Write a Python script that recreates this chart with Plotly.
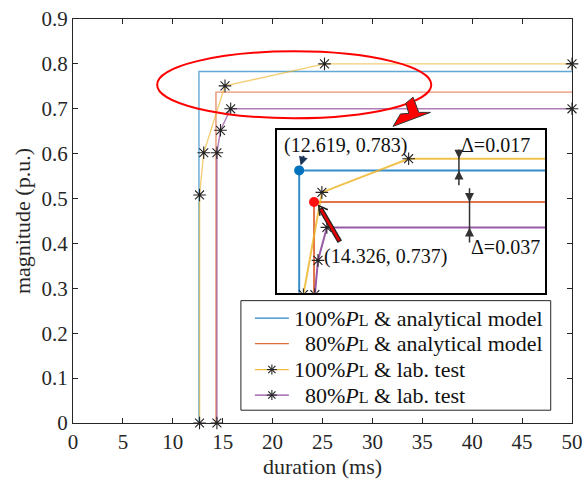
import plotly.graph_objects as go

# ---------------- data ----------------
x_a100 = [12.619, 12.619, 50]
y_a100 = [0, 0.783, 0.783]
x_a80 = [14.326, 14.326, 50]
y_a80 = [0, 0.737, 0.737]
x_t100 = [12.68, 12.68, 13.1, 15.23, 25.2, 50]
y_t100 = [0, 0.508, 0.602, 0.751, 0.80, 0.80]
x_t80 = [14.42, 14.42, 14.78, 15.8, 50]
y_t80 = [0, 0.602, 0.652, 0.70, 0.70]
key_pts_x = [12.619, 14.326]
key_pts_y = [0.783, 0.737]
x_ticks = [0, 5, 10, 15, 20, 25, 30, 35, 40, 45, 50]
y_ticks = [0, 0.1, 0.2, 0.3, 0.4, 0.5, 0.6, 0.7, 0.8, 0.9]

FONT = "Times New Roman, Liberation Serif, Tinos, serif"
BLUE, ORANGE, YELLOW, PURPLE = (0, 114, 189), (217, 83, 25), (237, 177, 32), (126, 47, 142)
def rgba(c, a):
    return f"rgba({c[0]},{c[1]},{c[2]},{a})"

PL = "<i>P</i><span style='font-size:16px'>L</span>"
names = [f"100%{PL} &amp; analytical model",
         f"80%{PL} &amp; analytical model",
         f"100%{PL} &amp; lab. test",
         f"80%{PL} &amp; lab. test"]

fig = go.Figure()
series = [(x_a100, y_a100, BLUE, False), (x_a80, y_a80, ORANGE, False),
          (x_t100, y_t100, YELLOW, True), (x_t80, y_t80, PURPLE, True)]
star = dict(symbol="asterisk-open", size=10.5, color="#222", line=dict(color="#222", width=1.1))
for (xs, ys, c, mk), nm in zip(series, names):
    fig.add_trace(go.Scatter(x=xs, y=ys, name=nm, mode="lines+markers" if mk else "lines",
                             line=dict(color=rgba(c, 0.62), width=1.4), showlegend=False,
                             marker=star if mk else None, cliponaxis=False,
                             xaxis="x", yaxis="y"))
# inset
for (xs, ys, c, mk) in series:
    fig.add_trace(go.Scatter(x=xs, y=ys, showlegend=False, mode="lines+markers" if mk else "lines",
                             line=dict(color=rgba(c, 0.8), width=2),
                             marker=star if mk else None, xaxis="x2", yaxis="y2"))
fig.add_trace(go.Scatter(x=key_pts_x, y=key_pts_y, mode="markers", showlegend=False,
                         marker=dict(size=10, color=["#0072BD", "#FF1010"]),
                         xaxis="x2", yaxis="y2"))

# geometry (pixels) of main plot area
L, R, T, B = 73, 572.3, 19, 423.5
W, H = R - L, B - T
def px(x):
    return (x - L) / W
def py(y):
    return (B - y) / H

ax_common = dict(showline=True, linecolor="#262626", linewidth=1, mirror="ticks",
                 ticks="inside", ticklen=5, tickcolor="#262626", showgrid=False,
                 zeroline=False, automargin=False,
                 tickfont=dict(family=FONT, size=21, color="#262626"))
fig.update_layout(
    width=585, height=481, margin=dict(l=L, r=585 - R, t=T, b=481 - B, autoexpand=False),
    paper_bgcolor="white", plot_bgcolor="white",
    font=dict(family=FONT, color="#262626"),
    xaxis=dict(range=[0, 50], tickvals=x_ticks, domain=[0, 1],
               title=dict(text="duration (ms)", font=dict(family=FONT, size=22), standoff=3), **ax_common),
    yaxis=dict(range=[0, 0.9], tickvals=y_ticks, domain=[0, 1],
               title=dict(text="magnitude (p.u.)", font=dict(family=FONT, size=22), standoff=4), **ax_common),
    xaxis2=dict(domain=[px(276.7), px(545.5)], range=[10.02, 40.9], anchor="y2",
                showticklabels=False, ticks="", showgrid=False, zeroline=False,
                showline=True, mirror=True, linecolor="black", linewidth=2),
    yaxis2=dict(domain=[py(293), py(130)], range=[0.605, 0.842], anchor="x2",
                showticklabels=False, ticks="", showgrid=False, zeroline=False,
                showline=True, mirror=True, linecolor="black", linewidth=2),
    showlegend=False,
)

def pline(x0, y0, x1, y1, color, width):
    fig.add_shape(type="line", xref="paper", yref="paper", x0=px(x0), y0=py(y0),
                  x1=px(x1), y1=py(y1), line=dict(color=color, width=width))

# red ellipse
fig.add_shape(type="circle", xref="x", yref="y", x0=8.43, x1=35.9, y0=0.679, y1=0.828,
              line=dict(color="#FF0000", width=2))
# big red block arrow
poly = [(406, 103.3), (413.3, 97.3), (419, 112.5), (430.7, 112.5), (393.3, 126.5),
        (400.7, 114), (409, 113.5)]
path = "M " + " L ".join(f"{px(a):.5f},{py(b):.5f}" for a, b in poly) + " Z"
fig.add_shape(type="path", xref="paper", yref="paper", path=path,
              fillcolor="#FF0000", line=dict(color="#333", width=1))

# red pointer in inset: outlined shaft + open head
tail, tip = (340, 242), (319, 206)
pline(tail[0], tail[1], tip[0] + 1.5, tip[1] + 2.5, "#222", 5)
pline(tail[0] - 0.6, tail[1] - 1, tip[0] + 2, tip[1] + 3.5, "#E00000", 2.6)
head = [(tip[0] + 9, tip[1] + 4), tip, (tip[0] + 1, tip[1] + 10)]
hpath = "M " + " L ".join(f"{px(a):.5f},{py(b):.5f}" for a, b in head)
fig.add_shape(type="path", xref="paper", yref="paper", path=hpath,
              line=dict(color="#222", width=1.6))

# delta bracket shafts
for xa, y_top, y_bot in [(30.98, 0.8135, 0.7615), (32.2, 0.757, 0.678)]:
    fig.add_shape(type="line", xref="x2", yref="y2", x0=xa, x1=xa, y0=y_bot, y1=y_top,
                  line=dict(color="#333", width=1.5))

# ---- legend (drawn) ----
lg_left, lg_top, lg_right, lg_bot = 241, 301, 551, 410.7
fig.add_shape(type="rect", xref="paper", yref="paper", x0=px(lg_left), x1=px(lg_right),
              y0=py(lg_bot), y1=py(lg_top), line=dict(color="#262626", width=1),
              fillcolor="white")
rows = [318.5, 344, 370, 395.5]
text_x = [292, 303.5, 292, 303.5]
ann = []
for (xs, ys, c, mk), nm, ry, tx in zip(series, names, rows, text_x):
    pline(255, ry, 289, ry, rgba(c, 0.85), 1.3)
    if mk:
        cx = 272
        for dx, dy in [(5, 0), (0, 5), (3.6, 3.6), (3.6, -3.6)]:
            pline(cx - dx, ry - dy, cx + dx, ry + dy, "#222", 1.1)
    ann.append(dict(x=px(tx), y=py(ry), xref="paper", yref="paper", text=nm,
                    xanchor="left", yanchor="middle", showarrow=False,
                    font=dict(family=FONT, size=22, color="#111")))

tf = dict(family=FONT, size=20, color="#111")
ann.append(dict(x=17.96, y=0.8194, xref="x2", yref="y2", text="(12.619, 0.783)",
                showarrow=False, font=tf))
ann.append(dict(x=35.2, y=0.8194, xref="x2", yref="y2", text="Δ=0.017",
                showarrow=False, font=tf))
ann.append(dict(x=36.3, y=0.6709, xref="x2", yref="y2", text="Δ=0.037",
                showarrow=False, font=tf))
ann.append(dict(x=22.56, y=0.6578, xref="x2", yref="y2", text="(14.326, 0.737)",
                showarrow=False, font=tf))
# delta arrow heads
for xa, tip_y, off in [(30.98, 0.80, -9), (30.98, 0.783, 9), (32.2, 0.737, -9), (32.2, 0.70, 9)]:
    ann.append(dict(x=xa, y=tip_y, ax=0, ay=off, xref="x2", yref="y2",
                    text="", showarrow=True, arrowhead=2, arrowsize=1.2, arrowwidth=1.5,
                    arrowcolor="#333"))
# blue pointer
ann.append(dict(x=12.619, y=0.783, xref="x2", yref="y2", ax=5, ay=-16, text="",
                showarrow=True, arrowhead=2, arrowsize=1.0, arrowwidth=1.8,
                arrowcolor="#1b3558", standoff=5))
fig.update_layout(annotations=ann)

fig.write_html("out.html")
